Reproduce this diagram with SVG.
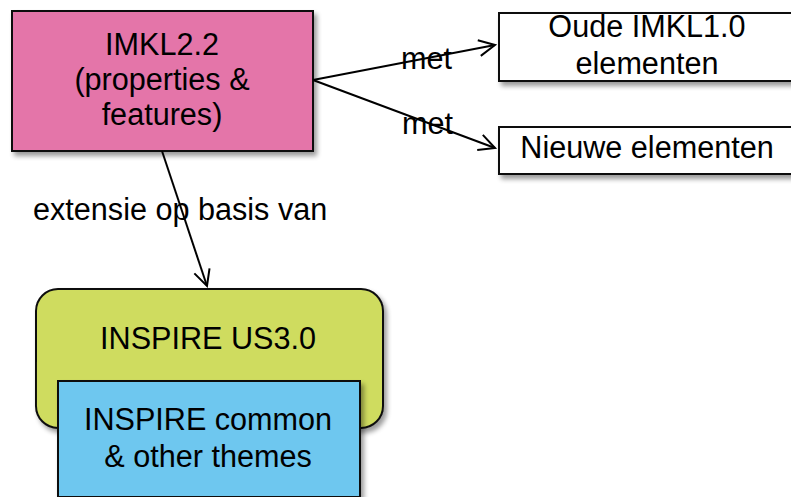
<svg xmlns="http://www.w3.org/2000/svg" width="791" height="497" viewBox="0 0 791 497">
<defs>
<style>
text{font-family:"Liberation Sans",Arial,sans-serif;font-size:30.6px;fill:#000;}
.c{text-anchor:middle;}
.box{stroke:#111;stroke-width:2;}
.conn{stroke:#000;stroke-width:2;fill:none;}
</style>
<filter id="sh" x="-10%" y="-10%" width="130%" height="140%">
<feGaussianBlur in="SourceAlpha" stdDeviation="2.5"/>
<feOffset dx="3" dy="4" result="b"/>
<feComponentTransfer><feFuncA type="linear" slope="0.4"/></feComponentTransfer>
<feMerge><feMergeNode/><feMergeNode in="SourceGraphic"/></feMerge>
</filter>
<marker id="arr" viewBox="0 0 20 20" refX="18" refY="10" markerWidth="20" markerHeight="20" markerUnits="userSpaceOnUse" orient="auto">
<path d="M2,2 L18,10 L2,18" fill="none" stroke="#000" stroke-width="2"/>
</marker>
</defs>
<g id="imkl22">
<rect class="box" x="12" y="11" width="301" height="140" fill="#e474a9" filter="url(#sh)"/>
<text class="c" x="162" y="55">IMKL2.2</text>
<text class="c" x="162" y="90">(properties &amp;</text>
<text class="c" x="162" y="125">features)</text>
</g>
<g id="oude">
<rect class="box" x="499" y="13" width="300" height="68" fill="#fff" filter="url(#sh)"/>
<text class="c" x="647" y="37">Oude IMKL1.0</text>
<text class="c" x="647" y="74">elementen</text>
</g>
<g id="nieuwe">
<rect class="box" x="499" y="127" width="300" height="47" fill="#fff" filter="url(#sh)"/>
<text class="c" x="647" y="158">Nieuwe elementen</text>
</g>
<g id="us30">
<rect class="box" x="36" y="289" width="347" height="139" rx="22" fill="#cfdc5e" filter="url(#sh)"/>
<text class="c" x="208" y="349">INSPIRE US3.0</text>
</g>
<g id="common">
<rect class="box" x="58" y="381" width="302" height="116" fill="#6ec7ef" filter="url(#sh)"/>
<text class="c" x="208" y="430">INSPIRE common</text>
<text class="c" x="208" y="467">&amp; other themes</text>
</g>
<g id="connectors">
<line class="conn" x1="313" y1="80" x2="495" y2="45" marker-end="url(#arr)"/>
<line class="conn" x1="313" y1="80" x2="495" y2="148" marker-end="url(#arr)"/>
<line class="conn" x1="162" y1="151" x2="207" y2="286" marker-end="url(#arr)"/>
<text x="401" y="69">met</text>
<text x="402" y="134">met</text>
<text x="33" y="220">extensie op basis van</text>
</g>
</svg>
